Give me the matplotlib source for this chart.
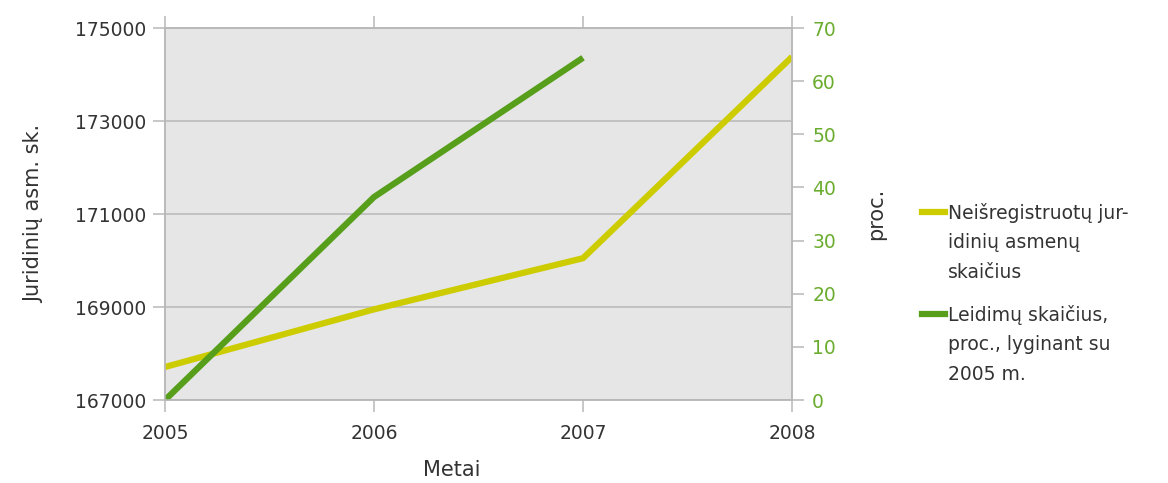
import matplotlib
matplotlib.use("Agg")
import matplotlib.pyplot as plt
from matplotlib.lines import Line2D

# data
years = [2005, 2006, 2007, 2008]
unregistered = [167710, 168950, 170050, 174380]   # left axis
permit_years = [2005, 2006, 2007]
permits_pct = [0, 38.2, 64.4]                     # right axis, %

left_ticks = [167000, 169000, 171000, 173000, 175000]
right_ticks = [0, 10, 20, 30, 40, 50, 60, 70]

label_yellow = "Neišregistruotų jur-\nidinių asmenų\nskaičius"
label_green = "Leidimų skaičius,\nproc., lyginant su\n2005 m."

YELLOW = "#cccc00"
GREEN = "#579f1b"
TICK_GREEN = "#6aac2e"
GRID = "#b8b8b8"
TEXT = "#333333"

plt.rcParams["font.family"] = ["DejaVu Sans"]

fig = plt.figure(figsize=(11.68, 4.83), dpi=100)
ax = fig.add_axes([0.1413, 0.1718, 0.5368, 0.7702])
ax.set_facecolor("#e6e6e6")

ax.plot(years, unregistered, color=YELLOW, lw=4.5, solid_capstyle="butt", zorder=3)
ax.set_xlim(2005, 2008)
ax.set_ylim(167000, 175000)
ax.set_yticks(left_ticks)
ax.set_xticks(years)
ax.yaxis.grid(True, color=GRID, lw=1.1)
ax.set_axisbelow(True)
ax.tick_params(axis="both", direction="out", length=8.5, width=1.1,
               color=GRID, labelsize=13.5, labelcolor=TEXT, pad=5)
ax.tick_params(axis="x", top=True, pad=9)
for s in ax.spines.values():
    s.set_color(GRID)
    s.set_linewidth(1.1)
ax.set_ylabel("Juridinių asm. sk.", fontsize=15, color=TEXT, labelpad=22)

ax2 = ax.twinx()
ax2.plot(permit_years, permits_pct, color=GREEN, lw=4.5, solid_capstyle="butt")
ax2.set_ylim(0, 70)
ax2.set_yticks(right_ticks)
ax2.tick_params(axis="y", direction="out", length=8.5, width=1.1,
                color=GRID, labelsize=13.5, labelcolor=TICK_GREEN, pad=6)
for s in ax2.spines.values():
    s.set_color(GRID)
    s.set_linewidth(1.1)
ax2.set_ylabel("proc.", fontsize=15, color=TEXT, labelpad=22)

fig.text(452 / 1168, 1 - 470 / 483, "Metai", fontsize=15, color=TEXT,
         ha="center", va="center")

# legend drawn by hand so the handle sits on the first text line
fig.add_artist(Line2D([922 / 1168, 945 / 1168], [1 - 212 / 483] * 2, color=YELLOW, lw=4.5))
fig.add_artist(Line2D([922 / 1168, 945 / 1168], [1 - 314 / 483] * 2, color=GREEN, lw=4.5))
fig.text(948 / 1168, 1 - 203 / 483, label_yellow, fontsize=13.5, color=TEXT,
         va="top", ha="left", linespacing=1.7)
fig.text(948 / 1168, 1 - 305 / 483, label_green, fontsize=13.5, color=TEXT,
         va="top", ha="left", linespacing=1.7)

fig.savefig("out.png", dpi=100)
